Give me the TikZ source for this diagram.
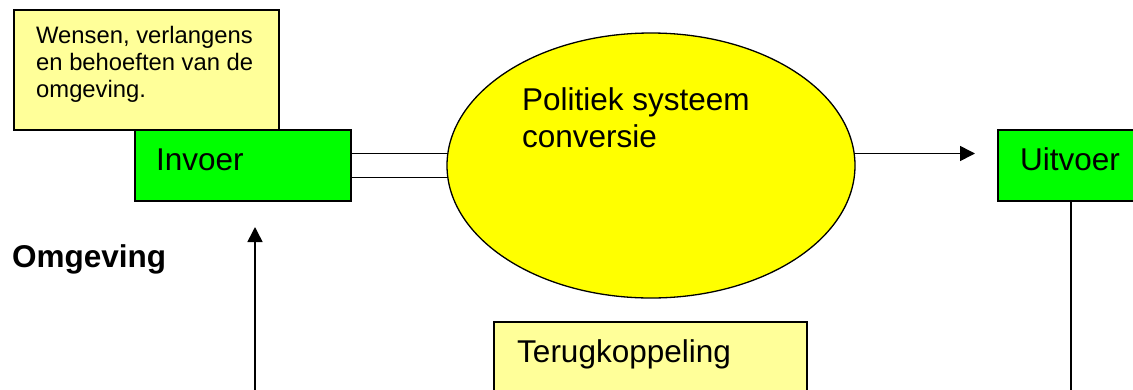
\documentclass[tikz,border=0pt]{standalone}
\usepackage{fontspec}
\setmainfont{Liberation Sans}
\usetikzlibrary{arrows.meta,shapes.geometric}

\definecolor{noteyellow}{HTML}{FFFF99}
\definecolor{boxgreen}{HTML}{00FF00}
\definecolor{sysyellow}{HTML}{FFFF00}

\tikzset{
  notebox/.style={draw=black, line width=2pt, fill=noteyellow, rectangle, inner sep=0pt, outer sep=0pt},
  greenbox/.style={draw=black, line width=2pt, fill=boxgreen, rectangle, inner sep=0pt, outer sep=0pt},
  sysellipse/.style={draw=black, line width=1.3pt, fill=sysyellow, ellipse, inner sep=0pt, outer sep=0pt},
  bigtext/.style={inner sep=0pt, font=\fontsize{31.5}{37}\selectfont},
  smalltext/.style={inner sep=0pt, font=\fontsize{23.8}{27}\selectfont},
  conn/.style={draw=black, line width=1.6pt},
  arrowconn/.style={conn, -{Triangle[length=15pt,width=15pt]}}
}

\begin{document}
\begin{tikzpicture}[x=1pt,y=-1pt]
\useasboundingbox (0,0) rectangle (1133,389);
\clip (0,0) rectangle (1133,389);

% input side: note on the wishes of the environment and the input box
\node[notebox, minimum width=265pt, minimum height=120pt, anchor=north west] (note) at (14,10) {};
\node[smalltext, anchor=north west, align=left] (notetext) at ([shift={(22,16)}]note.north west)
  {Wensen, verlangens\\en behoeften van de\\omgeving.};

\node[greenbox, minimum width=216pt, minimum height=71pt, anchor=north west] (inv) at (135,130) {};
\node[bigtext, anchor=base west] (invtext) at ([shift={(21,40)}]inv.north west) {Invoer};

% the political system
\node[sysellipse, minimum width=408pt, minimum height=265pt] (ell) at (651,165.5) {};
\node[bigtext, anchor=north west, align=left] (elltext) at ([shift={(-129,-78)}]ell.center)
  {Politiek systeem\\conversie};

% output box
\node[greenbox, minimum width=160pt, minimum height=71pt, anchor=north west] (uit) at (998,130) {};
\node[bigtext, anchor=base west] (uittext) at ([shift={(22,40)}]uit.north west) {Uitvoer};

% feedback box
\node[notebox, minimum width=313pt, minimum height=100pt, anchor=north west] (terug) at (494,322) {};
\node[bigtext, anchor=base west] (terugtext) at ([shift={(23,40)}]terug.north west) {Terugkoppeling};

% environment label
\node[bigtext, font=\fontsize{31.5}{37}\selectfont\bfseries, anchor=base west] (omg) at (12,267) {Omgeving};

% connectors
\draw[conn] ([yshift=12pt]inv.east) -- ([yshift=12pt]ell.west);
\draw[conn] ([yshift=-12pt]inv.east) -- ([yshift=-12pt]ell.west);
\draw[arrowconn] ([yshift=12pt]ell.east) -- ([shift={(-23pt,12pt)}]uit.west);

\coordinate (fbR) at (1071,400);
\coordinate (fbL) at (255,400);
\draw[conn] (uit.south -| fbR) -- (fbR);
\draw[arrowconn] (fbL) -- ([yshift=-26pt]inv.south -| fbL);
\end{tikzpicture}
\end{document}
